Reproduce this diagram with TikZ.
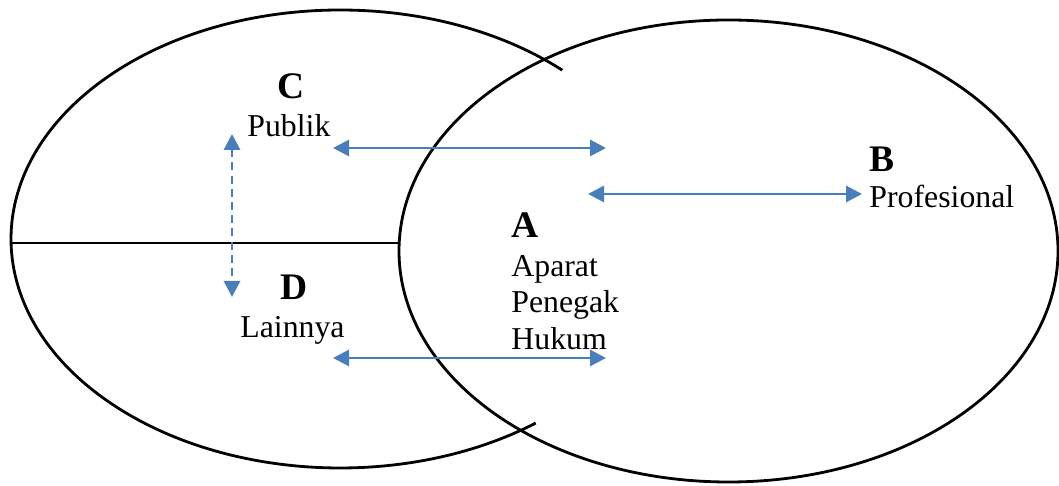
\documentclass[tikz,border=0pt]{standalone}
\usepackage{fontspec}
\setmainfont{Liberation Serif}
\usetikzlibrary{arrows.meta}
\definecolor{arrblue}{RGB}{74,126,187}
\tikzset{
  outline/.style={line width=1.4pt, black},
  link/.style={line width=1.45pt, arrblue, {Triangle[length=8pt,width=8pt]}-{Triangle[length=8pt,width=8pt]}},
  dlink/.style={link, dash pattern=on 4pt off 2.6pt},
  letter/.style={anchor=base west, inner sep=0pt, font=\fontsize{18.75}{20}\selectfont\bfseries},
  label/.style={anchor=base west, inner sep=0pt, font=\fontsize{15.9}{18}\selectfont},
}
\begin{document}
\begin{tikzpicture}[x=0.5pt,y=0.5pt]
\useasboundingbox (0,0) rectangle (1059,486);
% left (open) ellipse
\draw[outline] (340,247) ++(47.5:164.5pt and 114.5pt)
  arc[start angle=47.5, end angle=306.5, x radius=164.5pt, y radius=114.5pt];
% right ellipse
\draw[outline] (728.5,235) ellipse[x radius=164.75pt, y radius=115.5pt];
% dividing line
\coordinate (L1) at (11,243);
\coordinate (L2) at (399,243);
\draw[line width=1.1pt] (L1) -- (L2);
% texts
\node[letter] (C) at (277,387) {C};
\node[label] (publik) at (247,349) {Publik};
\node[letter] (D) at (280,186) {D};
\node[label] (lainnya) at (240,148) {Lainnya};
\node[letter] (A) at (511,248) {A};
\node[label] (a1) at (511,209) {Aparat};
\node[label] (a2) at (511,173) {Penegak};
\node[label] (a3) at (511,136) {Hukum};
\node[letter] (B) at (869,314) {B};
\node[label] (prof) at (869,278) {Profesional};
% arrow end points
\coordinate (p1) at (333,338);
\coordinate (p2) at (606,338);
\coordinate (q1) at (588,292);
\coordinate (q2) at (862,292);
\coordinate (r1) at (333,128);
\coordinate (r2) at (606,128);
\coordinate (s1) at (232,352);
\coordinate (s2) at (232,189);
\draw[link] (p1) -- (p2);
\draw[link] (q1) -- (q2);
\draw[link] (r1) -- (r2);
\draw[dlink] (s1) -- (s2);
\end{tikzpicture}
\end{document}
